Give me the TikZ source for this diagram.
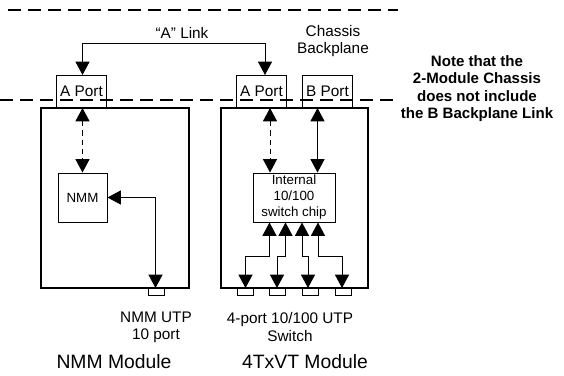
\documentclass[tikz,border=0pt]{standalone}
\usepackage{fontspec}
\setmainfont{Liberation Sans}
\usetikzlibrary{arrows.meta}
\begin{document}
\begin{tikzpicture}[x=0.75pt,y=-0.75pt,
  conn/.style={line width=0.75pt,{Triangle[length=10pt,width=10.5pt]}-{Triangle[length=10pt,width=10.5pt]}},
  dconn/.style={conn,dash pattern=on 4pt off 3pt},
  bp/.style={line width=1.5pt,dash pattern=on 9.5pt off 5.5pt},
  module/.style={draw,line width=1.6pt},
  portbox/.style={draw,line width=0.75pt,inner sep=0pt,minimum width=37.5pt,minimum height=24pt,font=\fontsize{11.5}{13}\selectfont},
  inbox/.style={draw,line width=0.75pt,inner sep=0pt,align=center},
  jack/.style={draw,line width=0.75pt,inner sep=0pt,minimum width=12pt,minimum height=5pt},
  lbl/.style={align=center,font=\fontsize{11.5}{12.8}\selectfont},
  title/.style={font=\fontsize{14.5}{16}\selectfont},
  note/.style={align=center,font=\bfseries\fontsize{11.3}{13}\selectfont}]
\useasboundingbox (0,0) rectangle (564,375);
% backplane dashed lines
\coordinate (bt1) at (8,10); \coordinate (bt2) at (398,10);
\coordinate (bb1) at (0,100); \coordinate (bb2) at (398,100);
\draw[bp] (bt1) -- (bt2);
\draw[bp] (bb1) -- (bb2);
% modules
\node[module,minimum width=111pt,minimum height=135pt,inner sep=0pt] (modL) at (115,198) {};
\node[module,minimum width=110.25pt,minimum height=135pt,inner sep=0pt] (modR) at (294.5,198) {};
% ports
\node[portbox,anchor=south] (aportL) at (81.5,108) {A Port};
\node[portbox,anchor=south] (aportR) at (261.5,108) {A Port};
\node[portbox,anchor=south] (bport) at (327.5,108) {B Port};
% inner boxes
\node[inbox,minimum width=36.75pt,minimum height=36.75pt,font=\fontsize{10}{12}\selectfont] (nmm) at (82.5,197.5) {NMM};
\node[inbox,minimum width=61.5pt,minimum height=36.75pt,font=\fontsize{10}{12}\selectfont] (chip) at (294,197.5) {Internal\\10/100\\switch chip};
% jacks
\node[jack,anchor=north] (jL) at (156,288) {};
\node[jack,anchor=north] (j1) at (245,288) {};
\node[jack,anchor=north] (j2) at (277.5,288) {};
\node[jack,anchor=north] (j3) at (310,288) {};
\node[jack,anchor=north] (j4) at (343,288) {};
% A link
\draw[conn] (aportL.north -| 82.5,0) -- (82.5,43) -- (265,43) -- (aportR.north -| 265,0);
% inner connections
\draw[dconn] (aportL.south -| 82.5,0) -- (nmm.north -| 82.5,0);
\draw[dconn] (aportR.south -| 270,0) -- (chip.north -| 270,0);
\draw[conn] (bport.south -| 317.5,0) -- (chip.north -| 317.5,0);
\draw[conn] (nmm.east) -| (jL.north -| 155.5,0);
\draw[conn] (chip.south -| 269.5,0) -- (269.5,256) -- (245.5,256) -- (j1.north -| 245.5,0);
\draw[conn] (chip.south -| 285.5,0) -- (285.5,256) -- (277,256) -- (j2.north -| 277,0);
\draw[conn] (chip.south -| 302,0) -- (302,256) -- (308,256) -- (j3.north -| 308,0);
\draw[conn] (chip.south -| 318,0) -- (318,256) -- (342,256) -- (j4.north -| 342,0);
% labels
\node[lbl] (alink) at (182,33) {``A'' Link};
\node[lbl] (chassis) at (333,41.5) {Chassis\\Backplane};
\node[note] (nt) at (477,88.5) {Note that the\\2-Module Chassis\\does not include\\the B Backplane Link};
\node[lbl] (nmmutp) at (156,327) {NMM UTP\\10 port};
\node[lbl] (swutp) at (290,327) {4-port 10/100 UTP\\Switch};
\node[title] (tL) at (114,362) {NMM Module};
\node[title] (tR) at (305,362) {4TxVT Module};
\end{tikzpicture}
\end{document}
